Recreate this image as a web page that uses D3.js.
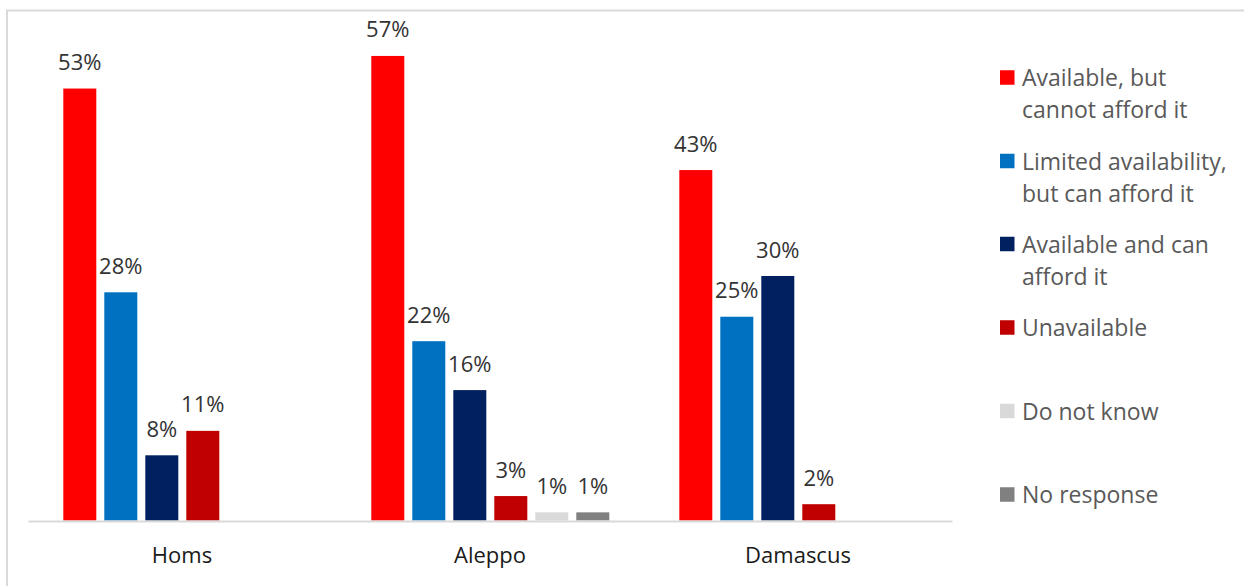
<!DOCTYPE html>
<html>
<head>
<meta charset="utf-8">
<script src="https://cdn.jsdelivr.net/npm/d3@7/dist/d3.min.js"></script>
<style>
  html, body { margin: 0; padding: 0; background: #fff; }
  svg { display: block; font-family: "Open Sans", sans-serif; }
</style>
</head>
<body>
<svg id="chart" width="1244" height="586"></svg>
<script>
const categories = ["Homs", "Aleppo", "Damascus"];
const seriesNames = [
  "Available, but cannot afford it",
  "Limited availability, but can afford it",
  "Available and can afford it",
  "Unavailable",
  "Do not know",
  "No response"
];
const legendLines = [
  ["Available, but", "cannot afford it"],
  ["Limited availability,", "but can afford it"],
  ["Available and can", "afford it"],
  ["Unavailable"],
  ["Do not know"],
  ["No response"]
];
const seriesColors = ["#FF0000", "#0070C0", "#002060", "#C00000", "#D9D9D9", "#808080"];
// values per series, in category order (Homs, Aleppo, Damascus); null = not shown
const availableCannotAfford = [53, 57, 43];
const limitedCanAfford = [28, 22, 25];
const availableCanAfford = [8, 16, 30];
const unavailable = [11, 3, 2];
const doNotKnow = [null, 1, null];
const noResponse = [null, 1, null];
const seriesValues = [availableCannotAfford, limitedCanAfford, availableCanAfford, unavailable, doNotKnow, noResponse];

const svg = d3.select("#chart");

// chart border (top and left visible)
svg.append("rect")
  .attr("x", 7).attr("y", 10.5)
  .attr("width", 1400).attr("height", 800)
  .attr("fill", "none").attr("stroke", "#D9D9D9").attr("stroke-width", 2);

const x0 = d3.scaleBand().domain(categories).range([28, 952]).paddingInner(0).paddingOuter(0);
const x1 = d3.scaleBand().domain(seriesNames).range([35.3, 273.3]).paddingInner(8 / 41).paddingOuter(0);
const y = d3.scaleLinear().domain([0, 60]).range([520.5, 31.5]);

const data = [];
categories.forEach((c, ci) => {
  seriesNames.forEach((s, si) => {
    const v = seriesValues[si][ci];
    if (v !== null && v !== undefined) data.push({ cat: c, series: s, si, value: v });
  });
});

// bars
svg.append("g").selectAll("rect").data(data).join("rect")
  .attr("x", d => x0(d.cat) + x1(d.series))
  .attr("y", d => y(d.value))
  .attr("width", x1.bandwidth())
  .attr("height", d => y(0) - y(d.value))
  .attr("fill", d => seriesColors[d.si]);

// axis line
const xAxis = d3.axisBottom(x0).tickSize(0).tickPadding(0);
const gx = svg.append("g").attr("transform", `translate(0,${y(0) + 0.5})`).call(xAxis);
gx.select(".domain").attr("stroke", "#D9D9D9").attr("stroke-width", 2);
gx.selectAll(".tick text")
  .attr("font-family", "Open Sans, sans-serif")
  .attr("font-size", 22)
  .attr("fill", "#1a1a1a")
  .attr("dy", null)
  .attr("y", 42);

// data labels
svg.append("g").selectAll("text").data(data).join("text")
  .attr("x", d => x0(d.cat) + x1(d.series) + x1.bandwidth() / 2)
  .attr("y", d => y(d.value) - 18.5)
  .attr("text-anchor", "middle")
  .attr("font-size", 22)
  .attr("fill", "#333333")
  .text(d => d.value + "%");

// legend
const legendY = [77.5, 161, 244, 327.5, 411, 494.5];
const lg = svg.append("g");
seriesNames.forEach((s, i) => {
  const g = lg.append("g");
  g.append("rect")
    .attr("x", 1000).attr("y", legendY[i] - 7.25)
    .attr("width", 14.5).attr("height", 14.5)
    .attr("fill", seriesColors[i]);
  legendLines[i].forEach((line, li) => {
    g.append("text")
      .attr("x", 1022)
      .attr("y", legendY[i] + 8.5 + li * 32)
      .attr("font-size", 23)
      .attr("fill", "#595959")
      .text(line);
  });
});
</script>
</body>
</html>
